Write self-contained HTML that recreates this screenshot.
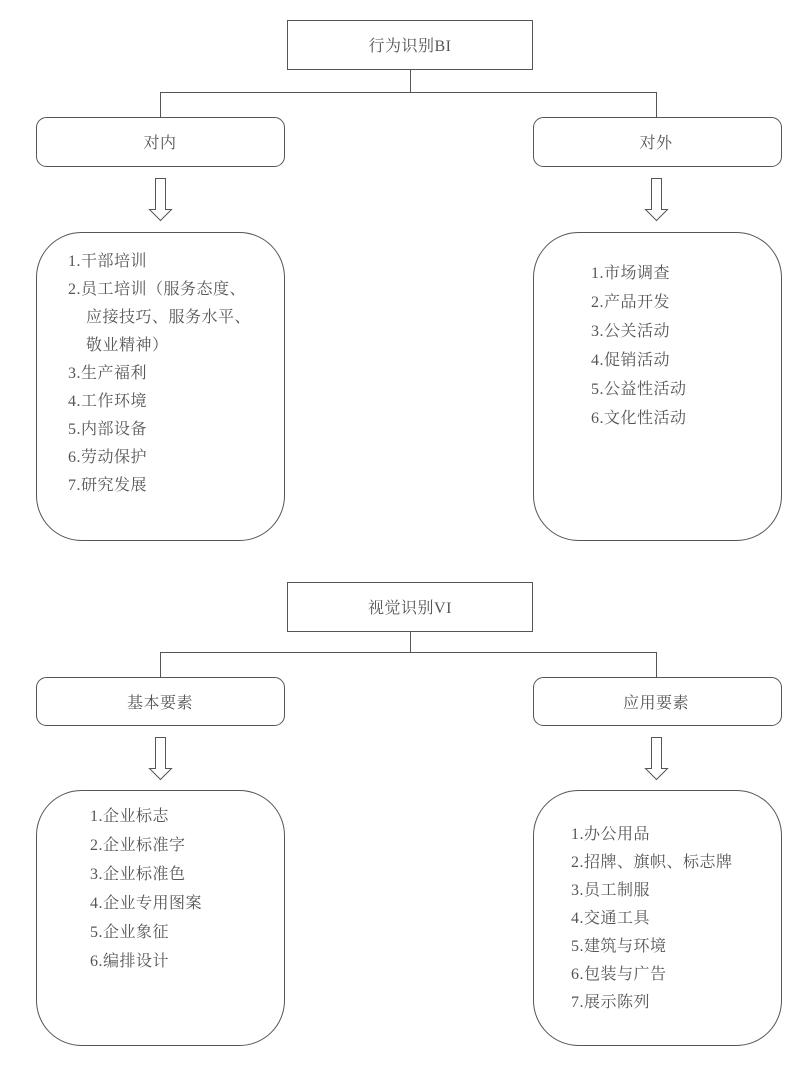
<!DOCTYPE html>
<html><head><meta charset="utf-8">
<style>
body{margin:0;background:#fff;}
svg text{font-family:"Liberation Serif","Noto Serif CJK SC",serif;fill:#555;font-size:16px;letter-spacing:0.5px;}
</style></head><body>
<svg width="806" height="1061" xmlns="http://www.w3.org/2000/svg">
<g fill="none" stroke="#555" stroke-width="1">
<rect x="287.5" y="20.5" width="245" height="49"/>
<path d="M410.5 70V92.5H160.5V117M410.5 92.5H656.5V117"/>
<rect x="36.5" y="117.5" width="248" height="49" rx="10"/>
<rect x="533.5" y="117.5" width="248" height="49" rx="10"/>
<path d="M155.5 178.5h10v31h6l-11 11l-11-11h6z"/>
<path d="M651.5 178.5h10v31h6l-11 11l-11-11h6z"/>
<rect x="36.5" y="232.5" width="248" height="308" rx="45"/>
<rect x="533.5" y="232.5" width="248" height="308" rx="45"/>
<rect x="287.5" y="582.5" width="245" height="49"/>
<path d="M410.5 632V652.5H160.5V677M410.5 652.5H656.5V677"/>
<rect x="36.5" y="677.5" width="248" height="48" rx="10"/>
<rect x="533.5" y="677.5" width="248" height="48" rx="10"/>
<path d="M155.5 737.5h10v31h6l-11 11l-11-11h6z"/>
<path d="M651.5 737.5h10v31h6l-11 11l-11-11h6z"/>
<rect x="36.5" y="790.5" width="248" height="255" rx="45"/>
<rect x="533.5" y="790.5" width="248" height="255" rx="45"/>
</g>
<g text-anchor="middle">
<text x="410" y="51">行为识别BI</text>
<text x="160" y="148">对内</text>
<text x="656" y="148">对外</text>
<text x="410" y="613">视觉识别VI</text>
<text x="160" y="708">基本要素</text>
<text x="656" y="708">应用要素</text>
</g>
<g>
<text x="68" y="266">1.干部培训</text>
<text x="68" y="294">2.员工培训（服务态度、</text>
<text x="86" y="322">应接技巧、服务水平、</text>
<text x="86" y="350">敬业精神）</text>
<text x="68" y="378">3.生产福利</text>
<text x="68" y="406">4.工作环境</text>
<text x="68" y="434">5.内部设备</text>
<text x="68" y="462">6.劳动保护</text>
<text x="68" y="490">7.研究发展</text>

<text x="591" y="278">1.市场调查</text>
<text x="591" y="307">2.产品开发</text>
<text x="591" y="336">3.公关活动</text>
<text x="591" y="365">4.促销活动</text>
<text x="591" y="394">5.公益性活动</text>
<text x="591" y="423">6.文化性活动</text>

<text x="90" y="821">1.企业标志</text>
<text x="90" y="850">2.企业标准字</text>
<text x="90" y="879">3.企业标准色</text>
<text x="90" y="908">4.企业专用图案</text>
<text x="90" y="937">5.企业象征</text>
<text x="90" y="966">6.编排设计</text>

<text x="571" y="839">1.办公用品</text>
<text x="571" y="867">2.招牌、旗帜、标志牌</text>
<text x="571" y="895">3.员工制服</text>
<text x="571" y="923">4.交通工具</text>
<text x="571" y="951">5.建筑与环境</text>
<text x="571" y="979">6.包装与广告</text>
<text x="571" y="1007">7.展示陈列</text>
</g>
</svg>
</body></html>
